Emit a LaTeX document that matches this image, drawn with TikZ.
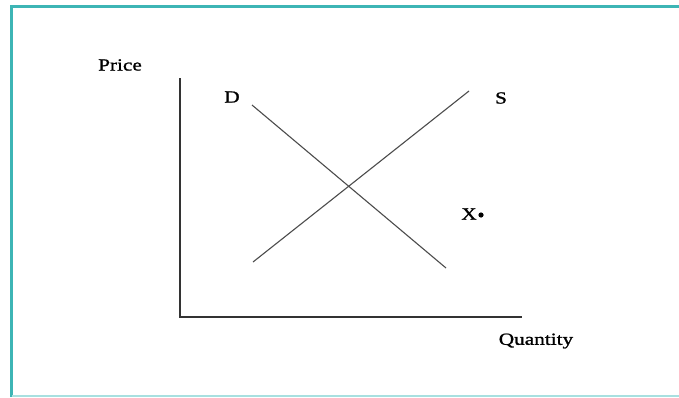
\documentclass[tikz,border=0pt]{standalone}
\usepackage{fontspec}
\setmainfont{Liberation Serif}
\newfontfamily\widefont[FakeStretch=1.25,FakeBold=1.2]{Liberation Serif}
\definecolor{frame}{HTML}{3DB5B5}
\definecolor{framelight}{HTML}{A8E0E0}
\begin{document}
\begin{tikzpicture}[x=1pt,y=-1pt,
  lbl/.style={inner sep=0pt,font=\widefont\fontsize{17}{20}\selectfont},
  axis/.style={line width=1.6pt,draw=black!80},
  curve/.style={line width=1.1pt,draw=black!70}]
\useasboundingbox (0,0) rectangle (679,397);
\fill[white] (0,0) rectangle (679,397);
\draw[frame,line width=2.5pt] (11.5,397) -- (11.5,6.5) -- (679,6.5);
\draw[framelight,line width=1.5pt] (12,396) -- (679,396);
% axes
\coordinate (top) at (180,78);
\coordinate (origin) at (180,317);
\coordinate (right) at (522,317);
\draw[axis] (top) -- (origin) -- (right);
% curves
\coordinate (d1) at (252,105);
\coordinate (d2) at (446,268);
\coordinate (s1) at (253,262);
\coordinate (s2) at (469,91);
\draw[curve] (d1) -- (d2);
\draw[curve] (s1) -- (s2);
% labels
\node[lbl] (price) at (120,65) {Price};
\node[lbl] (D) at (232,97) {D};
\node[lbl] (S) at (501,98) {S};
\node[lbl] (X) at (469,214) {X};
\fill (481,215) circle (2.6pt);
\node[lbl] (qty) at (536,341) {Quantity};
\end{tikzpicture}
\end{document}
